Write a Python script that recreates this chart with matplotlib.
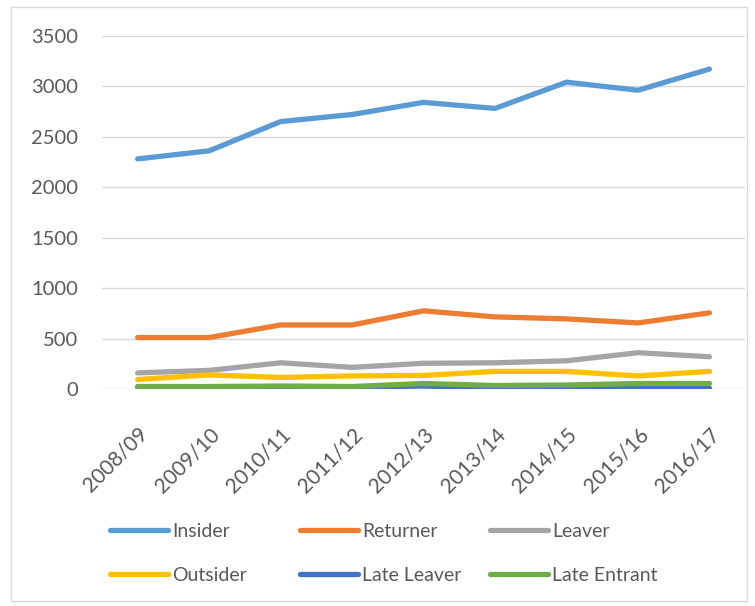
import numpy as np
import matplotlib
matplotlib.use("Agg")
import matplotlib.pyplot as plt
import matplotlib.transforms as mtransforms
from matplotlib.patches import Rectangle

years = ['2008/09', '2009/10', '2010/11', '2011/12', '2012/13',
         '2013/14', '2014/15', '2015/16', '2016/17']

insider = [2280, 2360, 2650, 2720, 2840, 2780, 3040, 2960, 3170]
returner = [510, 510, 635, 635, 775, 715, 695, 655, 755]
leaver = [160, 185, 260, 215, 255, 260, 280, 360, 320]
outsider = [95, 140, 115, 130, 135, 175, 175, 130, 175]
late_leaver = [20, 20, 20, 20, 30, 10, 10, 10, 10]
late_entrant = [25, 25, 30, 25, 55, 35, 40, 55, 55]

series = [
    ("Insider", insider, '#5B9BD5'),
    ("Returner", returner, '#ED7D31'),
    ("Leaver", leaver, '#A5A5A5'),
    ("Outsider", outsider, '#FFC000'),
    ("Late Leaver", late_leaver, '#4472C4'),
    ("Late Entrant", late_entrant, '#70AD47'),
]

plt.rcParams['font.family'] = ['Lato', 'DejaVu Sans']
text_col = '#595959'

fig = plt.figure(figsize=(7.55, 6.06), dpi=100)
ax = fig.add_axes([0.135, 0.358, 0.852, 0.583])

x = np.arange(len(years))
lines = []
for name, vals, col in series:
    ln, = ax.plot(x, vals, color=col, linewidth=3.8, label=name, solid_capstyle='round')
    lines.append(ln)

ax.set_xlim(-0.5, len(years) - 0.5)
ax.set_ylim(0, 3500)
ax.set_yticks(np.arange(0, 3501, 500))
ax.grid(axis='y', color='#D9D9D9', linewidth=1)
ax.set_axisbelow(True)
for s in ax.spines.values():
    s.set_visible(False)
ax.tick_params(length=0, colors=text_col)
ax.tick_params(axis='y', labelsize=14.5, pad=17)
ax.set_xticks(x)
ax.set_xticklabels(years, rotation=45, ha='right', rotation_mode='anchor')
shift = mtransforms.ScaledTranslation(14 / 100, 0, fig.dpi_scale_trans)
for lbl in ax.get_xticklabels():
    lbl.set_transform(lbl.get_transform() + shift)
ax.tick_params(axis='x', labelsize=15, pad=25)

# one legend per column, two rows each (Excel-style row-major order)
col_x = [110, 300, 490]
for c, px in enumerate(col_x):
    idx = [c, c + 3]
    leg = fig.legend([lines[i] for i in idx], [series[i][0] for i in idx],
                     loc='upper left', bbox_to_anchor=(px / 755, 1 - 523 / 606),
                     frameon=False, fontsize=14, handlelength=3.0,
                     handletextpad=0.2, labelspacing=1.4,
                     borderpad=0, borderaxespad=0)
    for t in leg.get_texts():
        t.set_color(text_col)

fig.patches.append(Rectangle((0.015, 0.008), 0.975, 0.98, transform=fig.transFigure,
                             fill=False, edgecolor='#D9D9D9', linewidth=1))

fig.savefig("out.png", dpi=100)
